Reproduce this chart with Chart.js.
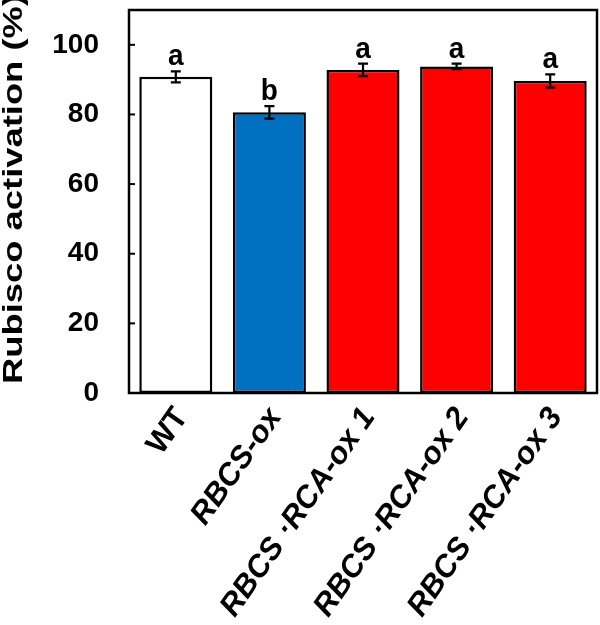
<!DOCTYPE html>
<html><head><meta charset="utf-8">
<script src="https://cdn.jsdelivr.net/npm/chart.js@4/dist/chart.umd.min.js"></script>
<style>html,body{margin:0;padding:0;background:#fff;} #wrap{width:600px;height:625px;position:relative;}</style>
</head><body><div id="wrap"><canvas id="c"></canvas></div>
<script>
const categories = ["WT", "RBCS-ox", "RBCS \u00B7RCA-ox 1", "RBCS \u00B7RCA-ox 2", "RBCS \u00B7RCA-ox 3"];
const activation = [90.8, 80.6, 92.8, 93.8, 89.6];
const errors = [1.6, 1.8, 1.8, 0.8, 1.9];
const letters = ["a", "b", "a", "a", "a"];
const barColors = ["#ffffff", "#0070c0", "#ff0000", "#ff0000", "#ff0000"];
const yTicks = [0, 20, 40, 60, 80, 100];
const yTitle = "Rubisco activation (%)";

const FONT = "'Liberation Sans', Arial, sans-serif";

const extras = {
  id: 'extras',
  afterDatasetsDraw(chart) {
    const ctx = chart.ctx, xs = chart.scales.x, ys = chart.scales.y, ca = chart.chartArea;
    ctx.save();
    ctx.strokeStyle = '#000';
    ctx.fillStyle = '#000';
    ctx.lineWidth = 2.2;
    activation.forEach((v, i) => {
      const x = xs.getPixelForValue(i);
      const yt = ys.getPixelForValue(v + errors[i]);
      const yb = ys.getPixelForValue(v - errors[i]);
      ctx.beginPath();
      ctx.moveTo(x, yt); ctx.lineTo(x, yb);
      ctx.moveTo(x - 5, yt); ctx.lineTo(x + 5, yt);
      ctx.moveTo(x - 5, yb); ctx.lineTo(x + 5, yb);
      ctx.stroke();
      ctx.save();
      ctx.font = "bold 28px " + FONT;
      ctx.textAlign = 'center';
      ctx.textBaseline = 'alphabetic';
      ctx.translate(x, yt - 6);
      ctx.scale(1, 1.08);
      ctx.fillText(letters[i], 0, 0);
      ctx.restore();
    });
    // inward ticks
    ctx.lineWidth = 2;
    yTicks.forEach(t => {
      const y = ys.getPixelForValue(t);
      ctx.beginPath(); ctx.moveTo(ca.left, y); ctx.lineTo(ca.left + 6, y); ctx.stroke();
    });
    // frame
    ctx.lineWidth = 2.5;
    ctx.strokeRect(ca.left, ca.top, ca.right - ca.left, ca.bottom - ca.top);
    // y axis title
    ctx.save();
    ctx.font = "bold 27px " + FONT;
    const w = ctx.measureText(yTitle).width;
    ctx.translate(22, 384);
    ctx.rotate(-Math.PI / 2);
    ctx.scale(390 / w, 1);
    ctx.textAlign = 'left';
    ctx.textBaseline = 'alphabetic';
    ctx.fillText(yTitle, 0, 0);
    ctx.restore();
    ctx.restore();
  }
};

new Chart(document.getElementById('c'), {
  type: 'bar',
  data: {
    labels: categories,
    datasets: [{
      data: activation,
      backgroundColor: barColors,
      borderColor: '#000',
      borderWidth: 2.5,
      borderSkipped: false,
      categoryPercentage: 1,
      barPercentage: 0.78
    }]
  },
  options: {
    responsive: true,
    maintainAspectRatio: false,
    animation: false,
    layout: { padding: { top: 10, right: 3, left: 0, bottom: 0 } },
    plugins: { legend: { display: false }, tooltip: { enabled: false } },
    scales: {
      x: {
        grid: { display: false, drawTicks: false },
        border: { display: false },
        ticks: {
          color: '#000',
          minRotation: 55, maxRotation: 55,
          padding: 8,
          labelOffset: 6,
          font: (c) => ({ family: FONT, size: 31, weight: 'bold', style: c.index === 0 ? 'normal' : 'italic' })
        },
        afterFit: (s) => { s.height = 232; s.paddingLeft = 0; s.paddingRight = 0; }
      },
      y: {
        min: 0, max: 110,
        grid: { display: false, drawTicks: false },
        border: { display: false },
        afterBuildTicks: (s) => { s.ticks = yTicks.map(v => ({ value: v })); },
        ticks: { color: '#000', padding: 30, font: { family: FONT, size: 28, weight: 'bold' } },
        title: { display: false },
        afterFit: (s) => { s.width = 129; s.paddingTop = 0; s.paddingBottom = 0; }
      }
    }
  },
  plugins: [extras]
});
</script>
</body></html>
